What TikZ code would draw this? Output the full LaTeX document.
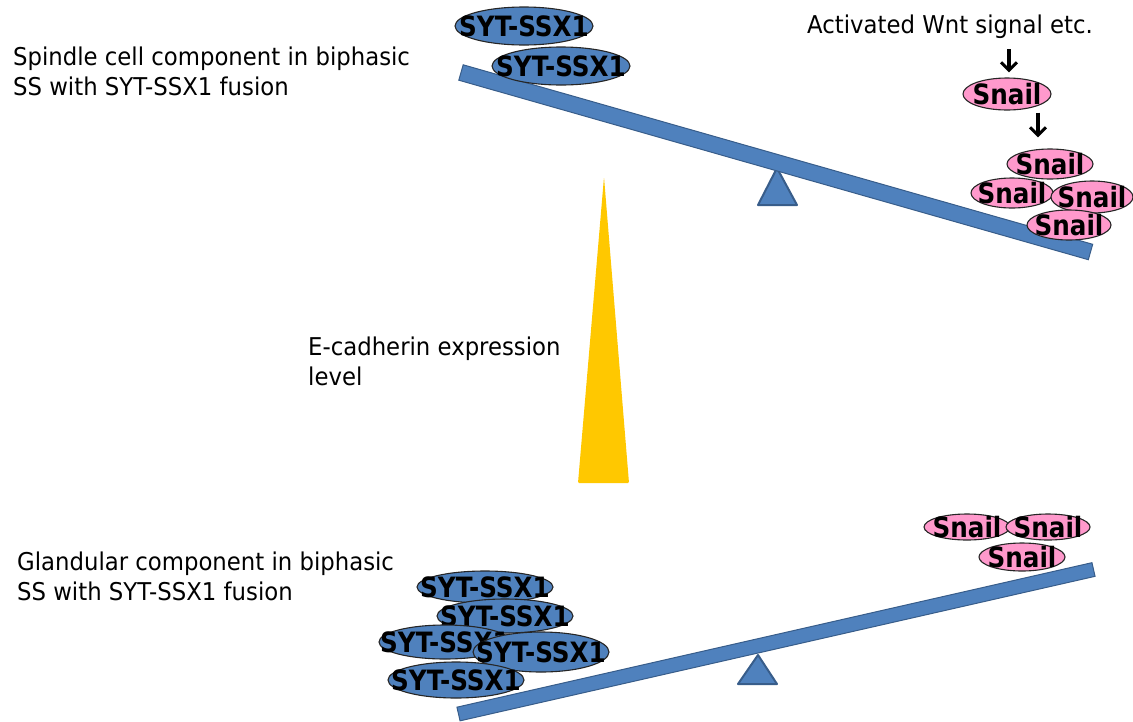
\documentclass[tikz,border=0pt]{standalone}
\usepackage{fontspec}
\setmainfont{DejaVu Sans}[FakeStretch=0.93]
\newfontfamily\ellfont{DejaVu Sans}[FakeStretch=0.88]
\usetikzlibrary{shapes.geometric,arrows.meta,calc}
\definecolor{beamblue}{RGB}{79,129,189}
\definecolor{beamedge}{RGB}{56,93,138}
\definecolor{snailpink}{RGB}{255,153,204}
\definecolor{wedgeyellow}{RGB}{255,200,0}
\newcommand\ctext[1]{\makebox[0pt]{\smash{\raisebox{-0.5\height}{#1}}}}
\begin{document}
\begin{tikzpicture}[x=1pt,y=-1pt,
  lbl/.style={font=\fontsize{24.5}{30}\selectfont, inner sep=0pt, align=left, anchor=base west},
  mol/.style={ellipse, draw=black!85, line width=1.1pt, inner sep=0pt, font=\ellfont\bfseries\fontsize{28}{28}\selectfont},
  syt/.style={mol, fill=beamblue},
  snail/.style={mol, fill=snailpink},
  beam/.style={fill=beamblue, draw=beamedge, line width=1pt, line join=miter},
  fulcrum/.style={fill=beamblue, draw=beamedge, line width=2pt, line join=round},
  arr/.style={draw=black, line width=3.2pt, -{Straight Barb[length=8pt,width=16pt,line width=3pt]}}]
\useasboundingbox (0,0) rectangle (1133,721);

% E-cadherin wedge
\fill[wedgeyellow, rounded corners=1pt] (604,177) -- (629,483) -- (578,483) -- cycle;

% fulcrums
\filldraw[fulcrum] (777,168) -- (797,205) -- (758,205) -- cycle;
\filldraw[fulcrum] (758,655) -- (777,684) -- (738,684) -- cycle;

% beams
\coordinate (b1l) at (461,72.5);
\coordinate (b1r) at (1090.5,252);
\filldraw[beam] ($(b1l)!8pt!90:(b1r)$) -- ($(b1r)!8pt!-90:(b1l)$) -- ($(b1r)!8pt!90:(b1l)$) -- ($(b1l)!8pt!-90:(b1r)$) -- cycle;
\coordinate (b2l) at (458.5,714);
\coordinate (b2r) at (1093.5,569.5);
\filldraw[beam] ($(b2l)!7pt!90:(b2r)$) -- ($(b2r)!7pt!-90:(b2l)$) -- ($(b2r)!7pt!90:(b2l)$) -- ($(b2l)!7pt!-90:(b2r)$) -- cycle;

% labels (anchor = baseline of the last line)
\node[lbl] (spindle) at (13,95) {Spindle cell component in biphasic\\SS with SYT-SSX1 fusion};
\node[lbl] (gland) at (17,600) {Glandular component in biphasic\\SS with SYT-SSX1 fusion};
\node[lbl] (ecad) at (308,385) {E-cadherin expression\\level};
\node[lbl] (wnt) at (807,33) {Activated Wnt signal etc.};

% top SYT-SSX1
\node[syt, minimum width=138pt, minimum height=38pt] (ta) at (524,26) {\ctext{SYT-SSX1}};
\node[syt, minimum width=138pt, minimum height=38pt] (tb) at (561,66) {\ctext{SYT-SSX1}};

% top Snail
\node[snail, minimum width=88pt, minimum height=32pt] (sn0) at (1007,94) {\ctext{Snail}};
\node[snail, minimum width=86pt, minimum height=30pt] (s1) at (1050,164) {\ctext{Snail}};
\node[snail, minimum width=82pt, minimum height=30pt] (s2) at (1012,193) {\ctext{Snail}};
\node[snail, minimum width=82pt, minimum height=32pt] (s3) at (1092,197) {\ctext{Snail}};
\node[snail, minimum width=84pt, minimum height=30pt] (s4) at (1069,225) {\ctext{Snail}};

\draw[arr, shorten <=11pt, shorten >=5pt] ([xshift=2pt]wnt.south -| sn0.north) -- ([xshift=2pt]sn0.north);
\draw[arr, shorten <=2pt, shorten >=11pt] ([xshift=31pt]sn0.south) -- ([xshift=31pt]sn0.south |- s1.north);

% bottom SYT-SSX1 cluster
\node[syt, minimum width=136pt, minimum height=32pt] (ba) at (485,587) {\ctext{SYT-SSX1}};
\node[syt, minimum width=136pt, minimum height=34pt] (bb) at (505,616) {\ctext{SYT-SSX1}};
\node[syt, minimum width=132pt, minimum height=34pt] (bc) at (445,642) {\ctext{SYT-SSX1}};
\node[syt, minimum width=136pt, minimum height=40pt] (bd) at (541,652) {\ctext{SYT-SSX1}};
\node[syt, minimum width=136pt, minimum height=36pt] (be) at (456,680) {\ctext{SYT-SSX1}};

% bottom Snail cluster
\node[snail, minimum width=86pt, minimum height=26pt] (bs1) at (967,527) {\ctext{Snail}};
\node[snail, minimum width=84pt, minimum height=26pt] (bs2) at (1048,527) {\ctext{Snail}};
\node[snail, minimum width=86pt, minimum height=28pt] (bs3) at (1022,557) {\ctext{Snail}};
\end{tikzpicture}
\end{document}
